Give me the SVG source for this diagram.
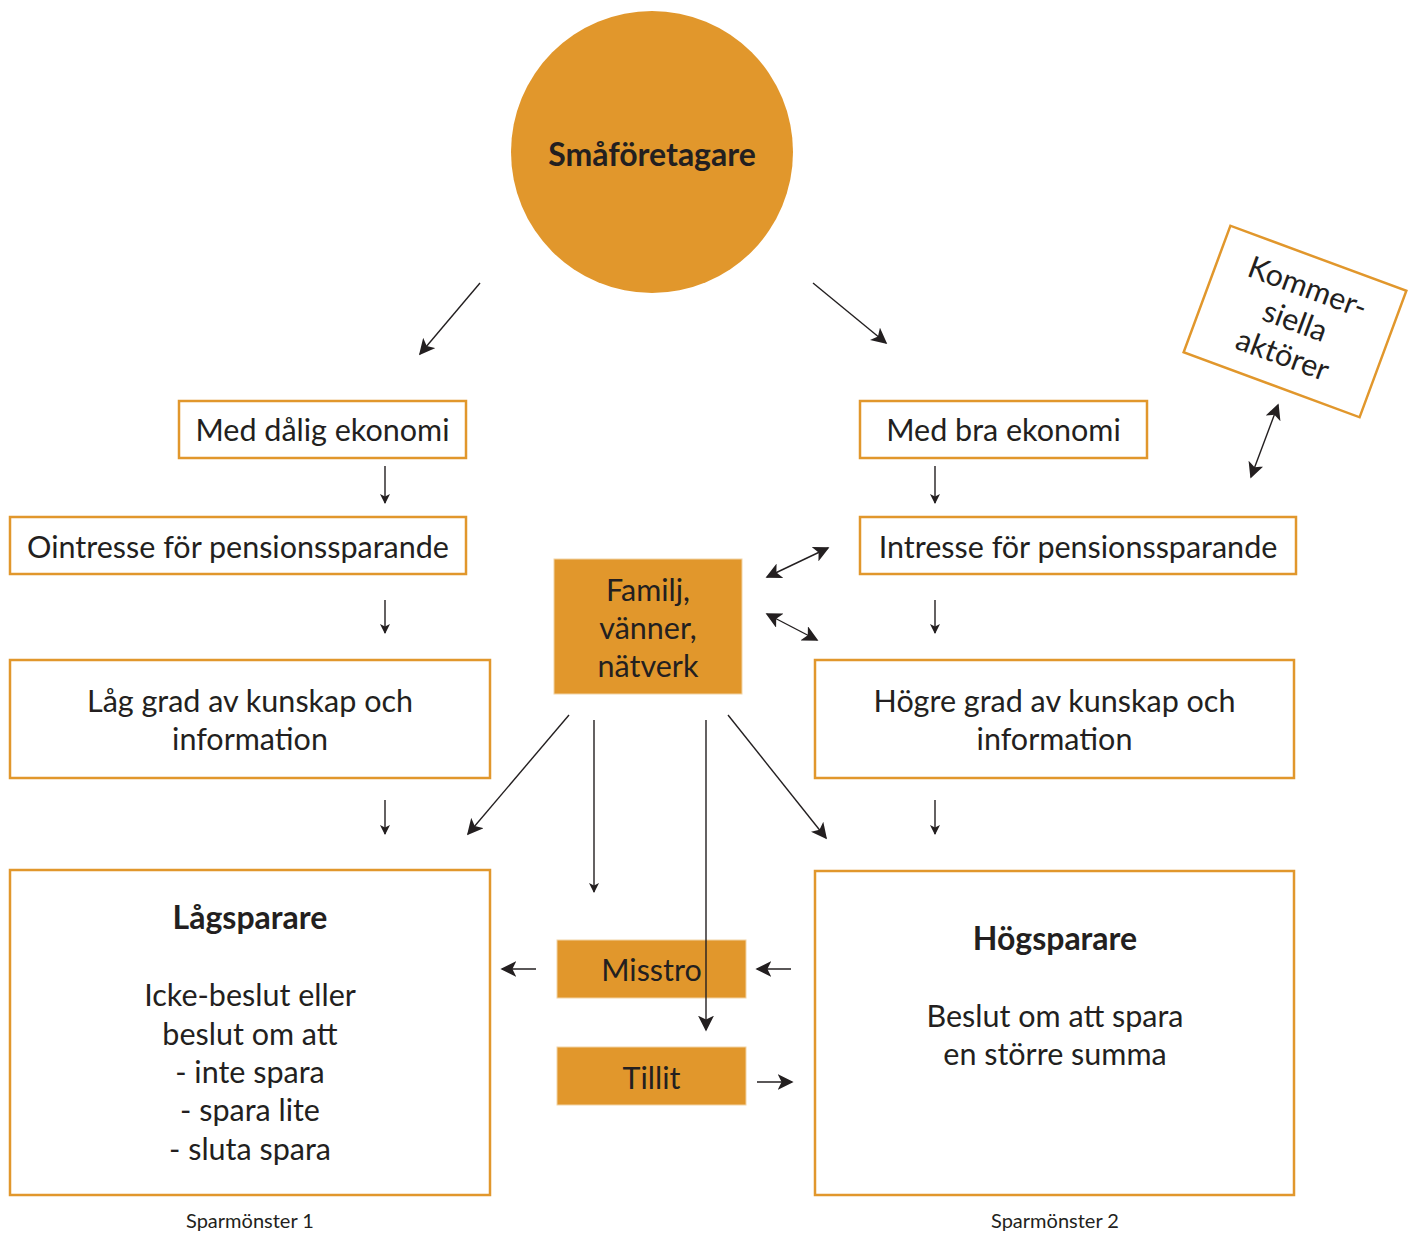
<svg xmlns="http://www.w3.org/2000/svg" width="1411" height="1233" viewBox="0 0 1411 1233">
<defs>
<style>
.bx{fill:#fff;stroke:#E1972C;stroke-width:2.5}
.fb{fill:#E1972C;stroke:#F2D3A4;stroke-width:1}
text{font-family:Lato,"Noto Sans",sans-serif;fill:#231F20;text-anchor:middle}
.t{font-size:30.5px}
.b{font-size:32px;font-weight:bold}
.s{font-size:20px}
.c line{stroke:#231F20;stroke-width:1.4}
</style>
<marker id="ah" viewBox="0 0 10 10" refX="9" refY="5" markerWidth="10" markerHeight="10" markerUnits="userSpaceOnUse" orient="auto-start-reverse">
<path d="M0,0 L10,5 L0,10 L2.5,5 Z" fill="#231F20"/>
</marker>
<marker id="ah2" viewBox="0 0 10 10" refX="9" refY="5" markerWidth="16" markerHeight="16" markerUnits="userSpaceOnUse" orient="auto-start-reverse">
<path d="M0,0 L10,5 L0,10 L2.5,5 Z" fill="#231F20"/>
</marker>
</defs>
<rect width="1411" height="1233" fill="#fff"/>

<g id="smaforetagare">
<circle cx="652" cy="152" r="141" fill="#E1972C"/>
<text class="b" x="652" y="166">Småföretagare</text>
</g>
<g id="kommersiella">
<g transform="translate(1295,321.5) rotate(20.3)">
<rect class="bx" x="-93.8" y="-67.4" width="187.6" height="134.8"/>
<text class="t" x="0" y="-26">Kommer-</text>
<text class="t" x="0" y="10">siella</text>
<text class="t" x="0" y="46">aktörer</text>
</g>
</g>
<g id="dalig"><rect class="bx" x="179" y="401" width="287" height="57"/><text class="t" x="322.5" y="441">Med dålig ekonomi</text></g>
<g id="ointresse"><rect class="bx" x="10" y="517" width="456" height="57"/><text class="t" x="238" y="558">Ointresse för pensionssparande</text></g>
<g id="laggrad"><rect class="bx" x="10" y="660" width="480" height="118"/><text class="t" x="250" y="712">Låg grad av kunskap och</text><text class="t" x="250" y="750">information</text></g>
<g id="lagsparare"><rect class="bx" x="10" y="870" width="480" height="325"/>
<text class="b" x="250" y="929">Lågsparare</text>
<text class="t" x="250" y="1006">Icke-beslut eller</text>
<text class="t" x="250" y="1045">beslut om att</text>
<text class="t" x="250" y="1083">- inte spara</text>
<text class="t" x="250" y="1121">- spara lite</text>
<text class="t" x="250" y="1160">- sluta spara</text>
</g>
<g id="bra"><rect class="bx" x="860" y="401" width="287" height="57"/><text class="t" x="1003.5" y="441">Med bra ekonomi</text></g>
<g id="intresse"><rect class="bx" x="860" y="517" width="436" height="57"/><text class="t" x="1078" y="558">Intresse för pensionssparande</text></g>
<g id="hogregrad"><rect class="bx" x="815" y="660" width="479" height="118"/><text class="t" x="1054.5" y="712">Högre grad av kunskap och</text><text class="t" x="1054.5" y="750">information</text></g>
<g id="hogsparare"><rect class="bx" x="815" y="871" width="479" height="324"/>
<text class="b" x="1055" y="950">Högsparare</text>
<text class="t" x="1055" y="1027">Beslut om att spara</text>
<text class="t" x="1055" y="1065">en större summa</text>
</g>
<g id="familj"><rect class="fb" x="554" y="559" width="188" height="135"/>
<text class="t" x="648" y="601">Familj,</text>
<text class="t" x="648" y="639">vänner,</text>
<text class="t" x="648" y="677">nätverk</text>
</g>
<g id="misstro"><rect class="fb" x="557" y="940" width="189" height="58"/><text class="t" x="651.5" y="981">Misstro</text></g>
<g id="tillit"><rect class="fb" x="557" y="1047" width="189" height="58"/><text class="t" x="651.5" y="1089">Tillit</text></g>
<g id="sparmonster1"><text class="s" x="250" y="1228">Sparmönster 1</text></g>
<g id="sparmonster2"><text class="s" x="1055" y="1228">Sparmönster 2</text></g>

<g id="connectors" class="c">
<line x1="480" y1="283" x2="420" y2="354" marker-end="url(#ah2)"/>
<line x1="813" y1="283" x2="886" y2="343" marker-end="url(#ah2)"/>
<line x1="385" y1="466" x2="385" y2="503" marker-end="url(#ah)"/>
<line x1="935" y1="466" x2="935" y2="503" marker-end="url(#ah)"/>
<line x1="385" y1="600" x2="385" y2="633" marker-end="url(#ah)"/>
<line x1="935" y1="600" x2="935" y2="633" marker-end="url(#ah)"/>
<line x1="385" y1="800" x2="385" y2="834" marker-end="url(#ah)"/>
<line x1="935" y1="800" x2="935" y2="834" marker-end="url(#ah)"/>
<line x1="767" y1="577" x2="828" y2="548" marker-start="url(#ah2)" marker-end="url(#ah2)"/>
<line x1="767" y1="614" x2="817" y2="640" marker-start="url(#ah2)" marker-end="url(#ah2)"/>
<line x1="1278" y1="405" x2="1251" y2="477" marker-start="url(#ah2)" marker-end="url(#ah2)"/>
<line x1="569" y1="715" x2="468" y2="834" marker-end="url(#ah2)"/>
<line x1="594" y1="720" x2="594" y2="892" marker-end="url(#ah)"/>
<line x1="706" y1="720" x2="706" y2="1030" marker-end="url(#ah2)"/>
<line x1="728" y1="715" x2="826" y2="838" marker-end="url(#ah2)"/>
<line x1="536" y1="969" x2="502" y2="969" marker-end="url(#ah2)"/>
<line x1="791" y1="969" x2="757" y2="969" marker-end="url(#ah2)"/>
<line x1="757" y1="1082" x2="792" y2="1082" marker-end="url(#ah2)"/>
</g>
</svg>
